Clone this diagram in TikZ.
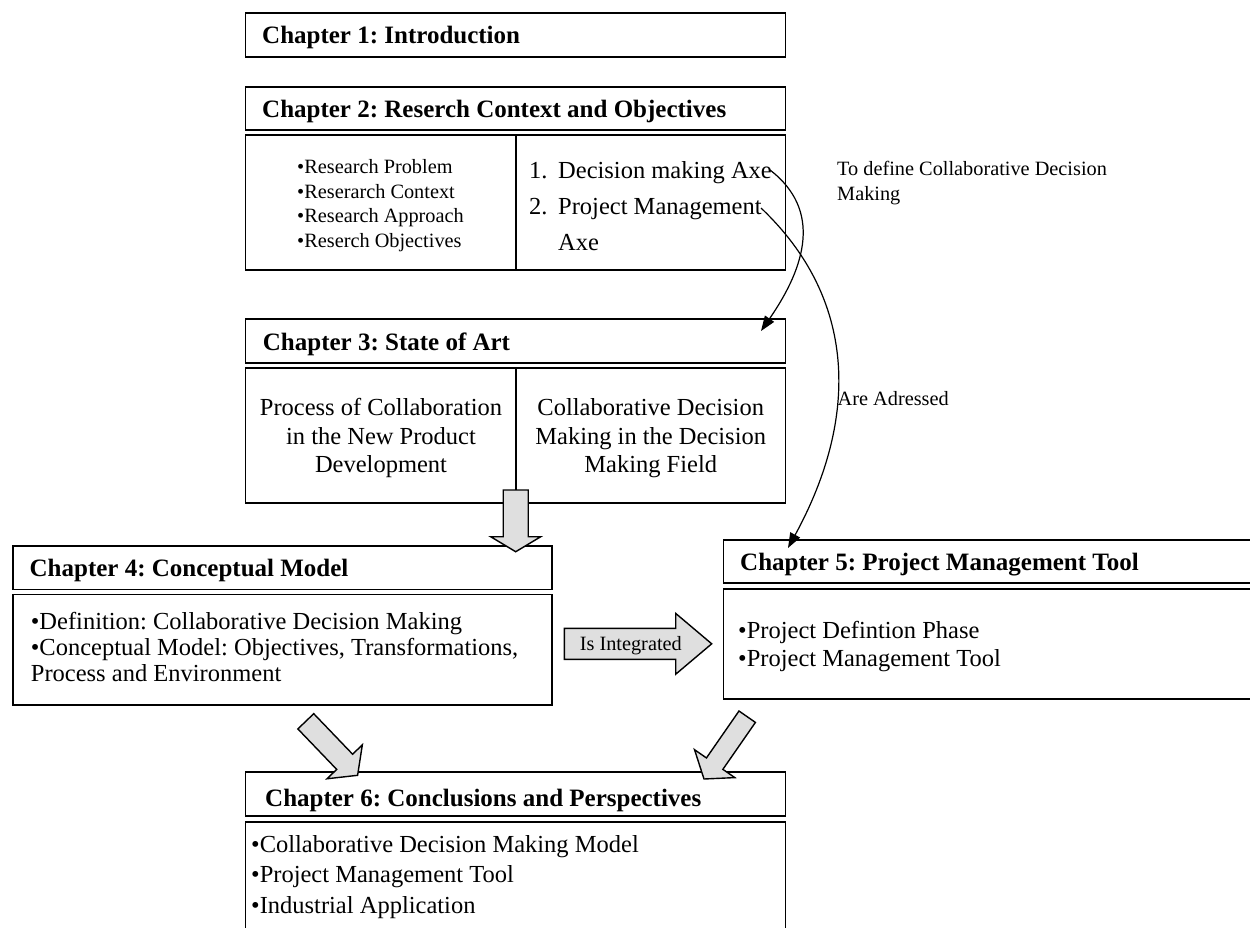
\documentclass[tikz,border=0pt]{standalone}
\usepackage{fontspec}
\setmainfont{Liberation Serif}
\usetikzlibrary{calc,arrows.meta}
\frenchspacing
\tikzset{
  chbox/.style={draw, line width=1.8pt, inner sep=0pt, outer sep=0pt, anchor=north west},
  hdr/.style={font=\fontsize{25}{30}\selectfont\bfseries, anchor=base west, inner sep=0pt},
  txt/.style={font=\fontsize{24.5}{29}\selectfont, anchor=base west, inner sep=0pt},
  ctxt/.style={font=\fontsize{24.5}{29}\selectfont, anchor=base, inner sep=0pt},
  sml/.style={font=\fontsize{20.3}{24}\selectfont, anchor=base west, inner sep=0pt},
  blockarrow/.style={draw, fill=gray!25, line width=1.4pt, line join=miter},
  curvearrow/.style={draw, line width=1.2pt, -{Triangle[length=15pt,width=11pt]}},
}
\newcommand{\blockarr}[6]{%
  \coordinate (#1h) at ($(#3)!#6!(#2)$);
  \draw[blockarrow] ($(#2)!#4!90:(#3)$) -- ($(#1h)!#4!90:(#3)$) -- ($(#1h)!#5!90:(#3)$) -- (#3)
     -- ($(#1h)!#5!-90:(#3)$) -- ($(#1h)!#4!-90:(#3)$) -- ($(#2)!#4!-90:(#3)$) -- cycle;}
\begin{document}
\begin{tikzpicture}[x=1pt,y=-1pt]
\useasboundingbox (0,0) rectangle (1250,927);
\fill[white] (0,0) rectangle (1250,927);
\clip (0,0) rectangle (1250,927);

% Chapter 1
\node[chbox, minimum width=540pt, minimum height=43.4pt] (ch1) at (245.4,13.3) {};
\node[hdr] (ch1t) at (262,43.5) {Chapter 1: Introduction};

% Chapter 2
\node[chbox, minimum width=540pt, minimum height=42.7pt] (ch2h) at (245.4,87.3) {};
\node[hdr] (ch2t) at (262,117.4) {Chapter 2: Reserch Context and Objectives};
\node[chbox, minimum width=540pt, minimum height=135pt] (ch2c) at (245.4,135) {};
\draw[line width=1.8pt] (516,135) -- (516,270);
\node[sml] (ch2a) at (297,173.5) {•Research Problem};
\node[sml] (ch2b) at (297,198) {•Reserarch Context};
\node[sml] (ch2d) at (297,222.5) {•Research Approach};
\node[sml] (ch2e) at (297,247) {•Reserch Objectives};
\node[txt] (n1) at (529,178.5) {1.};
\node[txt] (ax1) at (558,178.5) {Decision making Axe};
\node[txt] (n2) at (529,214.5) {2.};
\node[txt] (ax2) at (558,214.5) {Project Management};
\node[txt] (ax2b) at (558,250.5) {Axe};
\node[sml] (def) at (837,175) {To define Collaborative Decision};
\node[sml] (def2) at (837,200) {Making};

% Chapter 3
\node[chbox, minimum width=540pt, minimum height=43.7pt] (ch3h) at (245.4,319.3) {};
\node[hdr] (ch3t) at (262.7,350) {Chapter 3: State of Art};
\node[chbox, minimum width=540pt, minimum height=134.4pt] (ch3c) at (245.4,368.3) {};
\draw[line width=1.8pt] (516,368.3) -- (516,502.7);
\node[ctxt] (p1) at (381,415.5) {Process of Collaboration};
\node[ctxt] (p2) at (381,444) {in the New Product};
\node[ctxt] (p3) at (381,472.5) {Development};
\node[ctxt] (q1) at (650.7,415.5) {Collaborative Decision};
\node[ctxt] (q2) at (650.7,444) {Making in the Decision};
\node[ctxt] (q3) at (650.7,472.5) {Making Field};
\node[sml] (adr) at (837.5,405.5) {Are Adressed};

% Chapter 4
\node[chbox, minimum width=539pt, minimum height=43.5pt] (ch4h) at (13.3,546) {};
\node[hdr] (ch4t) at (29.5,576) {Chapter 4: Conceptual Model};
\node[chbox, minimum width=539pt, minimum height=110.5pt] (ch4c) at (13.3,594.5) {};
\node[txt] (d1) at (30.7,629) {•Definition: Collaborative Decision Making};
\node[txt] (d2) at (30.7,655) {•Conceptual Model: Objectives, Transformations,};
\node[txt] (d3) at (30.7,681) {Process and Environment};

% Chapter 5
\node[chbox, minimum width=540pt, minimum height=43.3pt] (ch5h) at (723.5,540) {};
\node[hdr] (ch5t) at (740,570.4) {Chapter 5: Project Management Tool};
\node[chbox, minimum width=540pt, minimum height=110.3pt] (ch5c) at (723.5,589) {};
\node[txt] (e1) at (738,638.5) {•Project Defintion Phase};
\node[txt] (e2) at (738,666.5) {•Project Management Tool};

% Chapter 6
\node[chbox, minimum width=540pt, minimum height=44.3pt] (ch6h) at (245.4,771.7) {};
\node[hdr] (ch6t) at (265,806.5) {Chapter 6: Conclusions and Perspectives};
\node[chbox, minimum width=540pt, minimum height=130pt] (ch6c) at (245.4,821.7) {};
\node[txt] (f1) at (251,852) {•Collaborative Decision Making Model};
\node[txt] (f2) at (251,882.5) {•Project Management Tool};
\node[txt] (f3) at (251,913) {•Industrial Application};

% block arrows
\coordinate (a1s) at (515.7,490);   \coordinate (a1e) at (515.7,551.7);
\coordinate (a2s) at (564.3,643.8); \coordinate (a2e) at (711.7,643.8);
\coordinate (a3s) at (305.8,721.3); \coordinate (a3e) at (357.6,775.3);
\coordinate (a4s) at (747.2,716.7); \coordinate (a4e) at (704,779);
\blockarr{a1}{a1s}{a1e}{12.5pt}{25pt}{15pt}
\blockarr{a2}{a2s}{a2e}{15.5pt}{30.4pt}{36pt}
\blockarr{a3}{a3s}{a3e}{11pt}{24.5pt}{18.7pt}
\blockarr{a4}{a4s}{a4e}{10pt}{24.5pt}{18.7pt}
\node[font=\fontsize{20.3}{24}\selectfont, anchor=base, inner sep=0pt] (integ) at (630.8,650) {Is Integrated};

% curved connectors
\coordinate (c1s) at (770,170); \coordinate (c1e) at (761,331);
\coordinate (c2s) at (761,208); \coordinate (c2e) at (788,548);
\draw[curvearrow] (c1s) .. controls (822,210) and (806,266) .. (c1e);
\draw[curvearrow] (c2s) .. controls (856,298) and (860,416) .. (c2e);
\end{tikzpicture}
\end{document}
